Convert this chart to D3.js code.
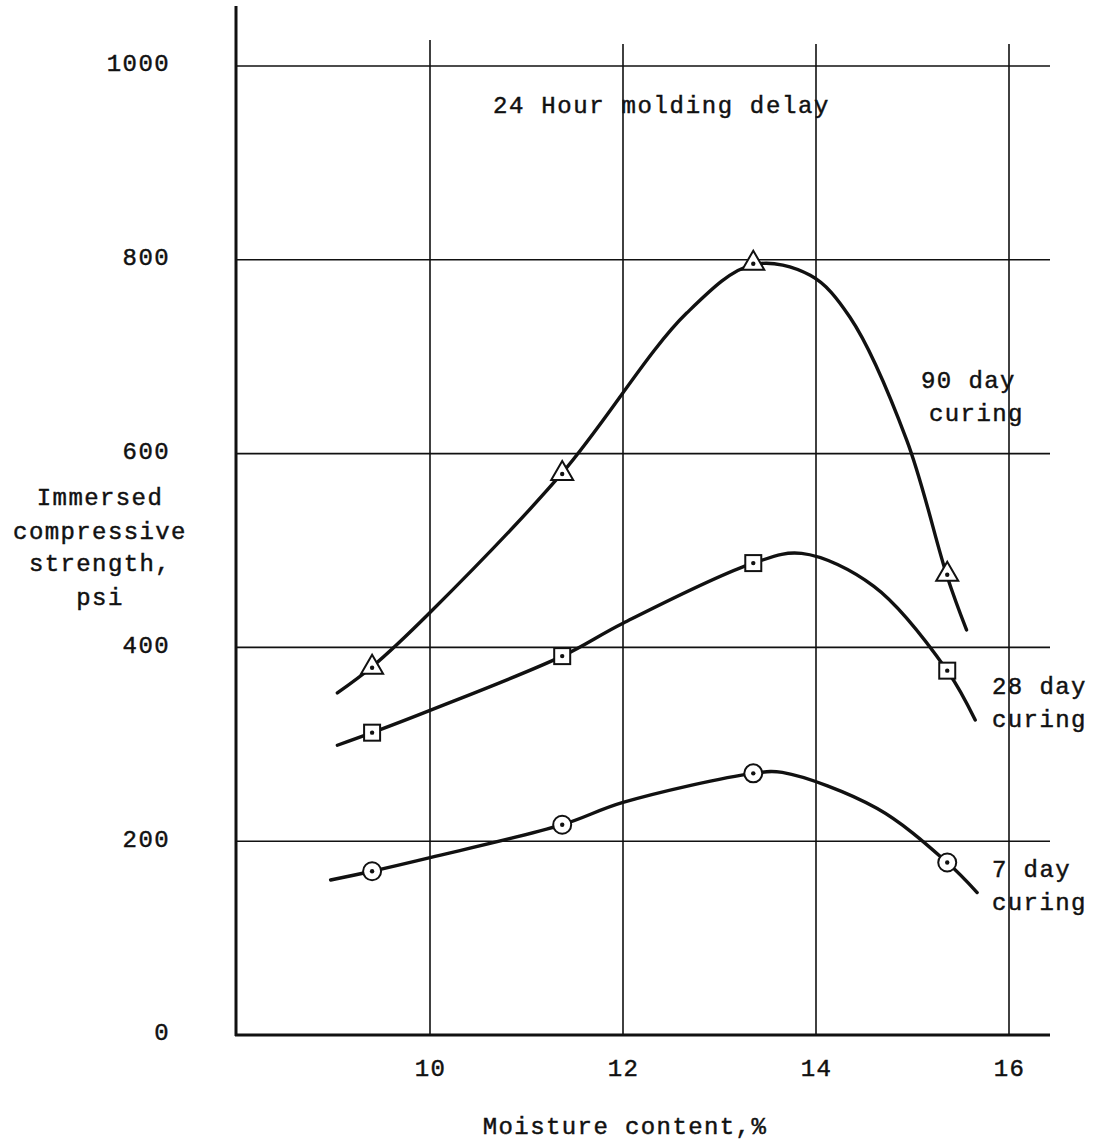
<!DOCTYPE html>
<html>
<head>
<meta charset="utf-8">
<script src="https://cdn.jsdelivr.net/npm/d3@7"></script>
<style>
  html, body { margin: 0; padding: 0; background: #fff; }
  svg { display: block; }
  text { font-family: "Liberation Mono", "DejaVu Sans Mono", monospace; fill: #111; stroke: #111; stroke-width: 0.45px; }
</style>
</head>
<body>
<svg id="chart" width="1095" height="1143"></svg>
<script>
// ---- data ----
const moisture = [9.4, 11.37, 13.35, 15.36];
const strength90 = [380, 580, 797, 476];
const strength28 = [312, 391, 487, 376];
const strength7  = [169, 217, 270, 178];

// hand-drawn fitted curves
const curve90 = [[9.04,353],[9.4,380],[10,436],[11.37,580],[12.66,745],[13.35,795],[13.94,784],[14.35,741],[14.94,614],[15.36,473],[15.56,418]];
const curve28 = [[9.04,299],[9.4,312],[10,335],[11.37,391],[12,425],[13.35,487],[13.85,497],[14.6,463],[15.36,376],[15.65,325]];
const curve7  = [[8.97,160],[9.4,169],[10,183],[11.37,217],[12,240],[13.35,270],[13.65,271],[14.63,234],[15.36,178],[15.67,147]];

const xTicks = [10, 12, 14, 16];
const yTicks = [0, 200, 400, 600, 800, 1000];
const yGrid = [200, 400, 600, 800, 1000];

const title = "24 Hour molding delay";
const xTitle = "Moisture content,%";
const yTitle = ["Immersed", "compressive", "strength,", "psi"];
const seriesLabels = [
  {lines: ["90 day", "curing"], x: 921, y: 380, indent: 8},
  {lines: ["28 day", "curing"], x: 992, y: 686, indent: 0},
  {lines: ["7 day", "curing"], x: 992, y: 869, indent: 0}
];

// ---- layout ----
const svg = d3.select("#chart");
const x = d3.scaleLinear().domain([8, 16]).range([237, 1009]);
const y = d3.scaleLinear().domain([0, 1000]).range([1035, 66]);
const xRight = 1050;
const fs = 24;
const ls = "1.4px";

// grid
svg.append("g").selectAll("line").data(yGrid).join("line")
  .attr("x1", x(8)).attr("x2", xRight)
  .attr("y1", d => y(d)).attr("y2", d => y(d))
  .attr("stroke", "#111").attr("stroke-width", 1.6);
svg.append("g").selectAll("line").data(xTicks).join("line")
  .attr("x1", d => x(d)).attr("x2", d => x(d))
  .attr("y1", d => d === 10 ? 40 : 44).attr("y2", y(0))
  .attr("stroke", "#111").attr("stroke-width", 1.6);

// axes lines
svg.append("line").attr("x1", 236).attr("x2", 236).attr("y1", 6).attr("y2", y(0) + 1)
  .attr("stroke", "#111").attr("stroke-width", 3);
svg.append("line").attr("x1", 235).attr("x2", xRight).attr("y1", y(0)).attr("y2", y(0))
  .attr("stroke", "#111").attr("stroke-width", 3);

// y tick labels
const yAxis = svg.append("g").attr("transform", "translate(236,0)")
  .call(d3.axisLeft(y).tickValues(yTicks).tickSize(0).tickPadding(66).tickFormat(d3.format("d")));
yAxis.select(".domain").remove();
yAxis.selectAll("text").attr("font-size", fs).attr("font-family", null).attr("fill", "#111")
  .attr("dy", "0.2em").style("letter-spacing", ls);

// x tick labels
const xAxis = svg.append("g").attr("transform", `translate(0,${y(0)})`)
  .call(d3.axisBottom(x).tickValues(xTicks).tickSize(0).tickPadding(0).tickFormat(d3.format("d")));
xAxis.select(".domain").remove();
xAxis.selectAll("text").attr("font-size", fs).attr("font-family", null).attr("fill", "#111")
  .attr("y", 33).attr("dy", "0.35em").style("letter-spacing", ls);

// titles
svg.append("text").attr("x", 625).attr("y", 1126).attr("dy", "0.35em")
  .attr("text-anchor", "middle").attr("font-size", fs).style("letter-spacing", ls).text(xTitle);
svg.append("text").attr("x", 493).attr("y", 105).attr("dy", "0.35em")
  .attr("font-size", fs).style("letter-spacing", "1.65px").text(title);
const yLines = [497, 531, 563, 597];
yTitle.forEach((t, i) => {
  svg.append("text").attr("x", 100).attr("y", yLines[i]).attr("dy", "0.35em")
    .attr("text-anchor", "middle").attr("font-size", fs).style("letter-spacing", ls).text(t);
});
seriesLabels.forEach(s => {
  s.lines.forEach((t, i) => {
    svg.append("text").attr("x", s.x + (i === 1 ? s.indent : 0))
      .attr("y", s.y + i * 33).attr("dy", "0.35em")
      .attr("font-size", fs).style("letter-spacing", ls).text(t);
  });
});

// curves
const line = d3.line().x(d => x(d[0])).y(d => y(d[1])).curve(d3.curveCatmullRom.alpha(0.5));
[curve90, curve28, curve7].forEach(c => {
  svg.append("path").attr("d", line(c)).attr("fill", "none")
    .attr("stroke", "#111").attr("stroke-width", 3.4).attr("stroke-linecap", "round");
});

// markers
function markers(vals, shape) {
  const g = svg.append("g");
  vals.forEach((v, i) => {
    const cx = x(moisture[i]), cy = y(v);
    if (shape === "tri") {
      g.append("path").attr("d", `M${cx},${cy - 12}L${cx + 11},${cy + 7}L${cx - 11},${cy + 7}Z`)
        .attr("fill", "#fff").attr("stroke", "#111").attr("stroke-width", 2);
    } else if (shape === "sq") {
      g.append("rect").attr("x", cx - 8).attr("y", cy - 8).attr("width", 16).attr("height", 16)
        .attr("fill", "#fff").attr("stroke", "#111").attr("stroke-width", 2);
    } else {
      g.append("circle").attr("cx", cx).attr("cy", cy).attr("r", 9)
        .attr("fill", "#fff").attr("stroke", "#111").attr("stroke-width", 2);
    }
    g.append("circle").attr("cx", cx).attr("cy", cy + (shape === "tri" ? 1 : 0)).attr("r", 2.2).attr("fill", "#111");
  });
}
markers(strength90, "tri");
markers(strength28, "sq");
markers(strength7, "circ");
</script>
</body>
</html>
